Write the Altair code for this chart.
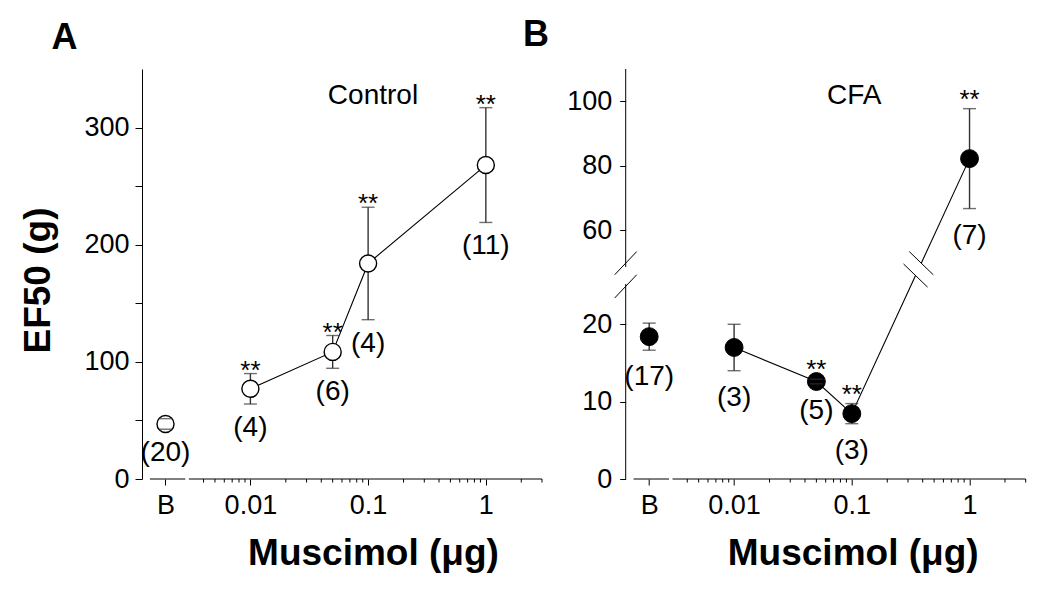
import math
import altair as alt
import pandas as pd

FONT = "Liberation Sans"

# ---------------- data ----------------
doses = ["B", 0.01, 0.05, 0.1, 1]

ctrl_mean = [47, 77, 108.5, 184, 268]
ctrl_sem = [4.5, 13, 14, 48, 49]
ctrl_n = ["(20)", "(4)", "(6)", "(4)", "(11)"]
ctrl_sig = ["", "**", "**", "**", "**"]

cfa_mean = [18.4, 17.0, 12.6, 8.45, 82.2]
cfa_sem = [1.75, 3.0, 0.3, 1.3, 15.5]
cfa_n = ["(17)", "(3)", "(5)", "(3)", "(7)"]
cfa_sig = ["", "", "**", "**", "**"]

x_major = ["B", 0.01, 0.1, 1]
x_minor = [0.004, 0.005, 0.006, 0.007, 0.008, 0.009,
           0.02, 0.03, 0.04, 0.05, 0.06, 0.07, 0.08, 0.09,
           0.2, 0.3, 0.4, 0.5, 0.6, 0.7, 0.8, 0.9, 2, 3]

ctrl_y_ticks = [0, 50, 100, 150, 200, 250, 300]
cfa_y_ticks = [0, 10, 20, 60, 80, 100]

# ---------------- layout constants ----------------
W, H = 400, 410
B_POS = 0.0019                      # where the baseline "B" category sits on the x axis
X_DOMAIN = [0.0012, 3]
X_SEGMENTS = [(0.0014, 0.0028), (0.003, 3)]
CTRL_DOMAIN = [0, 350]

# broken y axis of panel B: 0-25 below the break, 50-110 above it
LOW_MAX, GAP_TOP, HIGH_MIN, RATIO = 25, 28, 50, 5 / 12
CFA_TOP = 110


def cfa_disp(v):
    return v if v <= LOW_MAX else GAP_TOP + (v - HIGH_MIN) * RATIO


def xpos(d):
    return B_POS if d == "B" else d


ERR = "#333333"

x_scale = alt.Scale(type="log", domain=X_DOMAIN, nice=False)

# label expression for the x axis: "B" for the baseline slot, decades otherwise
vals = [xpos(v) for v in x_major]
labels = [str(v) for v in x_major]
expr = f"'{labels[-1]}'"
for i in range(len(vals) - 2, -1, -1):
    mid = math.sqrt(vals[i] * vals[i + 1])
    expr = f"datum.value < {mid} ? '{labels[i]}' : ({expr})"
X_LABEL_EXPR = expr


def x_axis(title_x):
    return alt.Axis(values=vals, labelExpr=X_LABEL_EXPR, tickSize=6, domain=False,
                    grid=False, labelFontSize=27, labelPadding=7, labelOverlap=False,
                    labelFlush=False, title="Muscimol (μg)", titleFontSize=37,
                    titleFontWeight="bold", titleX=title_x, titleY=74,
                    titleBaseline="middle", titleAlign="center")


def make_panel(mean, sem, n, sig, ytf, y_scale, y_axis, title_x):
    def X(f):
        return alt.X(f"{f}:Q", scale=x_scale, axis=x_axis(title_x))

    def Y(f):
        return alt.Y(f"{f}:Q", scale=y_scale, axis=y_axis)

    pts = pd.DataFrame({
        "x": [xpos(d) for d in doses],
        "y": [ytf(m) for m in mean],
        "lo": [ytf(m - s) for m, s in zip(mean, sem)],
        "hi": [ytf(m + s) for m, s in zip(mean, sem)],
        "n": n,
        "sig": sig,
        "dose": [str(d) for d in doses],
    })

    axis_df = pd.DataFrame({"x": [a for a, b in X_SEGMENTS],
                            "x2": [b for a, b in X_SEGMENTS],
                            "y": [0] * len(X_SEGMENTS)})
    minor_df = pd.DataFrame({"x": x_minor, "y": [0] * len(x_minor)})

    layers = []
    layers.append(alt.Chart(axis_df).mark_rule(color="black", strokeWidth=1)
                  .encode(x=X("x"), x2="x2", y=Y("y")))
    layers.append(alt.Chart(minor_df).mark_rule(color="black", strokeWidth=1, y2Offset=3.5)
                  .encode(x=X("x"), y=Y("y"), y2="y"))
    layers.append(alt.Chart(pts).mark_rule(color=ERR, strokeWidth=1.4)
                  .encode(x=X("x"), y=Y("lo"), y2="hi"))
    return pts, X, Y, layers


# ---------------- Panel A ----------------
ya_scale = alt.Scale(domain=CTRL_DOMAIN, nice=False, zero=False)
ya_axis = alt.Axis(values=ctrl_y_ticks, labelExpr="datum.value % 100 === 0 ? datum.label : ''",
                   tickSize=7, domain=True, grid=False, labelFontSize=27, labelPadding=6,
                   title="EF50 (g)", titleFontSize=37, titleFontWeight="bold",
                   titleAngle=-90, titleX=-104, titleY=211, titleBaseline="middle",
                   titleAlign="center")

ptsA, XA, YA, layersA = make_panel(ctrl_mean, ctrl_sem, ctrl_n, ctrl_sig, lambda v: v,
                                   ya_scale, ya_axis, 231)
lineA = ptsA[ptsA["dose"] != "B"]
layersA.append(alt.Chart(lineA).mark_line(color="black", strokeWidth=1.1)
               .encode(x=XA("x"), y=YA("y")))
layersA.append(alt.Chart(ptsA).mark_point(shape="circle", filled=True, fill="white",
                                          stroke="black", strokeWidth=1.4, size=290, opacity=1)
               .encode(x=XA("x"), y=YA("y")))
for f in ["lo", "hi"]:
    layersA.append(alt.Chart(ptsA).mark_tick(orient="horizontal", size=13, thickness=1.4, color=ERR)
                   .encode(x=XA("x"), y=YA(f)))
layersA.append(alt.Chart(ptsA).mark_text(fontSize=26, baseline="alphabetic", dy=5, color="black")
               .encode(x=XA("x"), y=YA("hi"), text="sig:N"))
layersA.append(alt.Chart(ptsA).mark_text(fontSize=28, baseline="middle", dy=24, color="black")
               .encode(x=XA("x"), y=YA("lo"), text="n:N"))
layersA.append(alt.Chart(pd.DataFrame({"x": [0.11], "y": [327], "t": ["Control"]}))
               .mark_text(fontSize=28, baseline="middle", color="black")
               .encode(x=XA("x"), y=YA("y"), text="t:N"))
layersA.append(alt.Chart(pd.DataFrame({"t": ["A"]}))
               .mark_text(fontSize=36, fontWeight="bold", align="left", baseline="middle", color="black")
               .encode(x=alt.value(-90.6), y=alt.value(-30.7), text="t:N"))

panelA = alt.layer(*layersA).properties(width=W, height=H)

# ---------------- Panel B ----------------
yb_scale = alt.Scale(domain=[0, cfa_disp(CFA_TOP)], nice=False, zero=False)
yb_axis = alt.Axis(values=[cfa_disp(v) for v in cfa_y_ticks],
                   labelExpr=(f"datum.value <= {LOW_MAX} ? format(datum.value, '.0f') : "
                              f"format({HIGH_MIN} + (datum.value - {GAP_TOP}) / {RATIO}, '.0f')"),
                   tickSize=6, domain=False, grid=False, labelFontSize=27, labelPadding=8,
                   title=None)

ptsB, XB, YB, layersB = make_panel(cfa_mean, cfa_sem, cfa_n, cfa_sig, cfa_disp,
                                   yb_scale, yb_axis, 227)

# y-axis line in two pieces with break marks
yseg = pd.DataFrame({"x": [X_DOMAIN[0]] * 2, "y": [0, 27.4], "y2": [25.2, cfa_disp(CFA_TOP)]})
layersB.append(alt.Chart(yseg).mark_rule(color="black", strokeWidth=1)
               .encode(x=XB("x"), y=YB("y"), y2="y2"))
ax_sl = pd.DataFrame({"x": [X_DOMAIN[0]] * 2, "y": [24.9 - 1.5, 27.9 - 1.5],
                      "y2": [24.9 + 1.5, 27.9 + 1.5]})
layersB.append(alt.Chart(ax_sl).mark_rule(color="black", strokeWidth=1, xOffset=-11, x2Offset=11)
               .encode(x=XB("x"), x2="x", y=YB("y"), y2="y2"))

# connecting line, broken where it crosses the axis break
lx0, ly0 = math.log10(0.1), cfa_disp(cfa_mean[3])
lx1, ly1 = math.log10(1), cfa_disp(cfa_mean[4])


def cross(d):
    t = (d - ly0) / (ly1 - ly0)
    return 10 ** (lx0 + t * (lx1 - lx0))


BREAK_LO, BREAK_HI = 26.3, 27.9
line_rows = []
for d, m in zip(doses[1:4], cfa_mean[1:4]):
    line_rows.append({"x": d, "y": cfa_disp(m), "seg": 0})
line_rows.append({"x": cross(BREAK_LO), "y": BREAK_LO, "seg": 0})
line_rows.append({"x": cross(BREAK_HI), "y": BREAK_HI, "seg": 1})
line_rows.append({"x": doses[4], "y": cfa_disp(cfa_mean[4]), "seg": 1})
lineB = pd.DataFrame(line_rows)
layersB.append(alt.Chart(lineB).mark_line(color="black", strokeWidth=1.1)
               .encode(x=XB("x"), y=YB("y"), detail="seg:N"))
ln_sl = pd.DataFrame({"x": [cross(BREAK_LO), cross(BREAK_HI)],
                      "y": [BREAK_LO + 1.5, BREAK_HI + 1.5],
                      "y2": [BREAK_LO - 1.5, BREAK_HI - 1.5]})
layersB.append(alt.Chart(ln_sl).mark_rule(color="black", strokeWidth=1, xOffset=-12, x2Offset=12)
               .encode(x=XB("x"), x2="x", y=YB("y"), y2="y2"))

layersB.append(alt.Chart(ptsB).mark_point(shape="circle", filled=True, fill="black",
                                          stroke="black", strokeWidth=1, size=320, opacity=1)
               .encode(x=XB("x"), y=YB("y")))
for f in ["lo", "hi"]:
    layersB.append(alt.Chart(ptsB).mark_tick(orient="horizontal", size=13, thickness=1.4, color=ERR)
                   .encode(x=XB("x"), y=YB(f)))
layersB.append(alt.Chart(ptsB).mark_text(fontSize=26, baseline="alphabetic", dy=-1, color="black")
               .encode(x=XB("x"), y=YB("hi"), text="sig:N"))
layersB.append(alt.Chart(ptsB).mark_text(fontSize=28, baseline="middle", dy=27, color="black")
               .encode(x=XB("x"), y=YB("lo"), text="n:N"))
layersB.append(alt.Chart(pd.DataFrame({"x": [0.105], "y": [cfa_disp(101.6)], "t": ["CFA"]}))
               .mark_text(fontSize=28, baseline="middle", color="black")
               .encode(x=XB("x"), y=YB("y"), text="t:N"))
layersB.append(alt.Chart(pd.DataFrame({"t": ["B"]}))
               .mark_text(fontSize=36, fontWeight="bold", align="left", baseline="middle", color="black")
               .encode(x=alt.value(-102.7), y=alt.value(-34.5), text="t:N"))

panelB = alt.layer(*layersB).properties(width=W, height=H)

chart = (
    alt.hconcat(panelA, panelB, spacing=83.7, bounds="flush")
    .properties(padding={"left": 11, "top": 8, "right": 5, "bottom": 5})
    .configure_view(stroke=None)
    .configure_axis(labelFont=FONT, titleFont=FONT, labelColor="black", titleColor="black",
                    tickColor="black", domainColor="black", tickWidth=1, domainWidth=1)
    .configure_text(font=FONT)
)

chart.save("out.html", embed_options={"renderer": "svg", "actions": False})
